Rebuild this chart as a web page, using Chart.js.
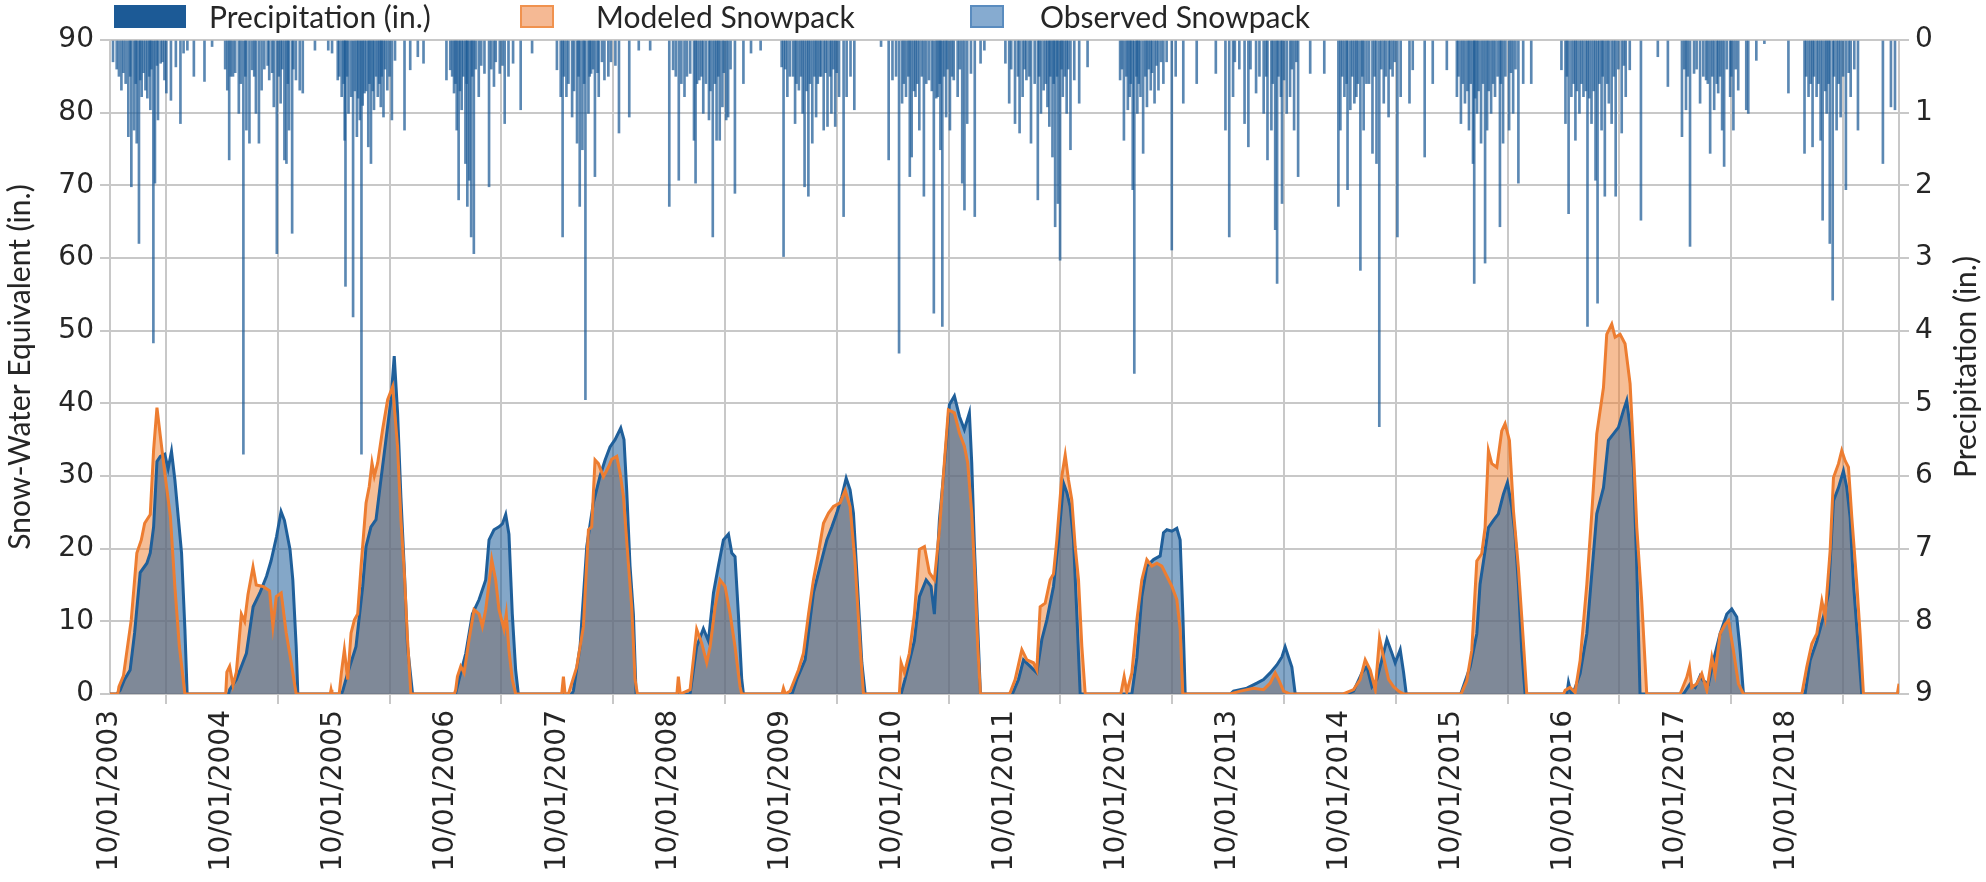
<!DOCTYPE html>
<html>
<head>
<meta charset="utf-8">
<script src="https://cdn.jsdelivr.net/npm/chart.js@4.4.0/dist/chart.umd.min.js"></script>
<style>
  html, body { margin: 0; padding: 0; background: #fff; }
  #wrap { position: relative; width: 1986px; height: 882px; }
  #legend { position: absolute; left: 0; top: 0; width: 1986px; height: 36px; font-family: Lato, sans-serif; font-size: 30px; color: #262626; }
  #legend .sw { position: absolute; top: 5px; height: 23px; box-sizing: border-box; }
  #legend .lt { position: absolute; top: -2px; line-height: 36px; white-space: nowrap; }
  canvas { position: absolute; left: 0; top: 0; }
</style>
</head>
<body>
<div id="wrap">
  <canvas id="chart" width="1986" height="882"></canvas>
  <div id="legend">
    <span class="sw" style="left:114px;width:72px;background:#1c5a96"></span>
    <span class="lt" style="left:209px">Precipitation (in.)</span>
    <span class="sw" style="left:520px;width:34px;background:#f5b994;border:2px solid #f0924f"></span>
    <span class="lt" style="left:596px">Modeled Snowpack</span>
    <span class="sw" style="left:970px;width:34px;background:#86abd0;border:2px solid #5a8cbf"></span>
    <span class="lt" style="left:1040px">Observed Snowpack</span>
  </div>
</div>
<script>
// x = years since 10/01/2003
const tickLabels = ['10/01/2003', '10/01/2004', '10/01/2005', '10/01/2006', '10/01/2007', '10/01/2008',
  '10/01/2009', '10/01/2010', '10/01/2011', '10/01/2012', '10/01/2013', '10/01/2014', '10/01/2015',
  '10/01/2016', '10/01/2017', '10/01/2018'];

// snow-water equivalent, inches
const modeledSWE = [
  [0,0],
  [0.07,0],[0.08,1],[0.12,2.5],[0.19,10.2],[0.24,19.4],[0.28,21.2],[0.31,23.5],[0.36,24.7],[0.39,33.6],[0.42,39.4],[0.45,35.5],[0.49,30.4],[0.54,24.4],[0.58,14.8],[0.62,6.6],[0.67,0],
  [1.035,0],[1.045,3],[1.07,3.8],[1.1,1.2],[1.13,3],[1.175,11],[1.204,10],[1.234,13.7],[1.279,17.5],[1.308,15],[1.368,14.8],[1.427,14.2],[1.457,9.3],[1.487,13.4],[1.531,13.9],[1.576,8.4],[1.621,4.3],[1.665,0],
  [1.97,0],[1.977,0.6],[1.985,0],[2.05,0],[2.07,3],[2.096,6.1],[2.126,2],[2.156,8.4],[2.186,10.2],[2.215,11],[2.245,17.5],[2.29,26.3],[2.319,28.6],[2.343,31.8],[2.364,30],[2.394,31.8],[2.438,36.4],[2.483,40.5],[2.528,42.3],[2.572,34],[2.602,24],[2.632,16.7],[2.661,7.5],[2.691,0],
  [3.08,0],[3.092,0.6],[3.107,2.4],[3.137,3.8],[3.167,2.9],[3.211,7.5],[3.256,11.6],[3.301,11],[3.33,9.3],[3.36,11.6],[3.39,15.3],[3.414,18.5],[3.449,15.7],[3.479,11.6],[3.524,8.9],[3.544,11],[3.568,6],[3.598,2],[3.628,0],
  [4.04,0],[4.055,2.4],[4.07,0],[4.1,0],[4.174,3.7],[4.234,9.3],[4.279,22.6],[4.308,23],[4.338,32.2],[4.368,31.7],[4.413,29.9],[4.457,31.2],[4.487,32.3],[4.532,32.7],[4.562,30.4],[4.592,27.2],[4.636,18],[4.666,12],[4.696,2],[4.717,0],
  [5.07,0],[5.083,2.4],[5.1,0],[5.188,0.6],[5.247,8.9],[5.292,7],[5.337,4.3],[5.367,6.5],[5.412,12],[5.456,15.7],[5.501,14.8],[5.546,11],[5.59,6.5],[5.635,1],[5.65,0],
  [6.01,0],[6.023,0.8],[6.04,0],[6.083,0.4],[6.157,3.3],[6.202,5.6],[6.247,11],[6.291,15.7],[6.336,19.4],[6.381,23.5],[6.426,24.9],[6.47,25.8],[6.53,26.3],[6.575,28],[6.619,25.8],[6.664,18],[6.709,6.5],[6.739,0],
  [7.06,0],[7.075,4.3],[7.105,2.9],[7.149,5.6],[7.194,11],[7.239,19.9],[7.284,20.3],[7.328,16.7],[7.373,15.7],[7.418,22.6],[7.462,31.8],[7.498,39.1],[7.552,38.7],[7.597,35.9],[7.641,34.1],[7.671,31.8],[7.707,24.9],[7.737,15.7],[7.761,6.5],[7.785,0],
  [8.04,0],[8.051,0.2],[8.095,2],[8.155,6.1],[8.2,4.7],[8.259,4.3],[8.289,3.3],[8.319,12],[8.364,12.5],[8.408,15.7],[8.438,16.5],[8.468,21.2],[8.513,30],[8.543,32.9],[8.572,29.5],[8.602,26.7],[8.632,20.3],[8.662,15.7],[8.692,6.5],[8.722,0],
  [9.04,0],[9.07,2.4],[9.094,0.3],[9.139,2.9],[9.184,10.2],[9.228,15.7],[9.273,18.5],[9.318,17.6],[9.363,18],[9.407,17.6],[9.452,16.2],[9.497,14.8],[9.541,13],[9.571,8.9],[9.595,0],
  [10.018,0],[10.108,0.4],[10.227,0.8],[10.317,0.6],[10.376,1.5],[10.421,2.9],[10.451,2],[10.496,0.4],[10.555,0],
  [11.03,0],[11.122,0.6],[11.181,2],[11.226,4.7],[11.271,3.3],[11.316,0.6],[11.354,7.7],[11.39,5.1],[11.435,2],[11.48,1],[11.524,0.4],[11.569,0],
  [12.08,0],[12.089,0.2],[12.134,1.8],[12.179,6],[12.224,18.3],[12.268,19.3],[12.298,22.9],[12.328,33.5],[12.358,31.7],[12.403,31.2],[12.447,36.2],[12.477,37.2],[12.516,34.9],[12.552,25.2],[12.596,17.4],[12.626,10.6],[12.671,0],
  [13.0,0],[13.014,0.5],[13.058,0.9],[13.103,0.2],[13.148,4.6],[13.208,15.1],[13.252,24.8],[13.297,35.8],[13.357,42.2],[13.386,49.5],[13.431,50.9],[13.461,49.1],[13.506,49.5],[13.55,48.2],[13.595,42.7],[13.625,33.5],[13.655,22.9],[13.699,12.8],[13.744,0],
  [14.042,0],[14.102,2.3],[14.126,3.7],[14.147,0.9],[14.191,1.4],[14.236,2.8],[14.281,0.5],[14.326,5],[14.355,2.8],[14.4,8.3],[14.445,9.6],[14.475,10.1],[14.519,6],[14.564,1.4],[14.609,0],
  [15.131,0],[15.175,3.7],[15.22,6.9],[15.265,8.3],[15.31,12.8],[15.339,10.6],[15.384,19.7],[15.414,29.8],[15.459,31.7],[15.488,33.5],[15.518,32.1],[15.548,31.2],[15.578,24.3],[15.623,15.1],[15.652,8.3],[15.682,0],
  [15.985,0],[16,1.4]
];

const observedSWE = [
  [0,0],
  [0.06,0],[0.09,0.5],[0.13,2],[0.18,3.3],[0.22,8.4],[0.27,16.7],[0.33,18],[0.36,19.4],[0.39,23],[0.42,32],[0.45,32.7],[0.49,33],[0.52,31],[0.55,33.4],[0.58,29.5],[0.61,24.4],[0.64,19.4],[0.67,8.9],[0.69,0],
  [1.06,0],[1.07,0.6],[1.13,2],[1.22,5.6],[1.28,12],[1.34,13.9],[1.4,16.2],[1.44,18.3],[1.49,21.7],[1.53,25.1],[1.56,23.9],[1.61,19.9],[1.635,15.7],[1.665,6.6],[1.68,0],
  [2.07,0],[2.081,0.4],[2.126,2.9],[2.2,6.5],[2.26,14.8],[2.29,20.3],[2.334,23],[2.379,24],[2.423,29.5],[2.468,35],[2.513,40.5],[2.542,46.5],[2.572,38.7],[2.602,27],[2.632,17.2],[2.661,6.5],[2.706,0],
  [3.09,0],[3.122,2],[3.182,5.6],[3.241,11],[3.301,13],[3.36,15.7],[3.39,21.2],[3.434,22.6],[3.479,23],[3.509,23.4],[3.539,24.7],[3.568,22],[3.598,11],[3.628,3.3],[3.652,0],
  [4.13,0],[4.144,0.4],[4.204,6.5],[4.264,20.3],[4.323,26.3],[4.383,30],[4.428,32.2],[4.472,34],[4.517,35],[4.568,36.6],[4.597,35],[4.621,28.1],[4.651,17.6],[4.681,11],[4.705,0],
  [5.188,0],[5.247,6.5],[5.307,9],[5.352,7.3],[5.397,13.9],[5.441,17.6],[5.486,21.2],[5.531,22],[5.561,19.4],[5.59,18.9],[5.62,11],[5.65,2],[5.665,0],
  [6.1,0],[6.142,2],[6.217,4.7],[6.291,13.9],[6.351,17.6],[6.411,21.2],[6.456,23],[6.5,24.9],[6.545,27.2],[6.584,29.7],[6.619,28.1],[6.649,24.9],[6.679,16.7],[6.724,4.3],[6.754,0],
  [7.075,0],[7.11,2],[7.194,7.3],[7.239,13.4],[7.299,15.7],[7.343,14.8],[7.373,11],[7.418,24],[7.462,31.3],[7.507,39.8],[7.552,41],[7.597,38.2],[7.641,36.4],[7.686,38.7],[7.707,31.8],[7.731,20.3],[7.761,9],[7.785,0],
  [8.07,0],[8.081,0.4],[8.125,2],[8.17,4.7],[8.23,3.8],[8.289,2.9],[8.334,7.5],[8.379,10.2],[8.438,14.8],[8.483,21.2],[8.528,29],[8.558,27.7],[8.587,25.8],[8.617,21.2],[8.647,11],[8.677,0],
  [9.139,0],[9.184,5],[9.228,13.4],[9.273,17.6],[9.333,18.5],[9.392,19],[9.422,22.2],[9.452,22.6],[9.497,22.4],[9.541,22.8],[9.571,21.2],[9.595,11],[9.616,0],
  [10.02,0],[10.048,0.4],[10.168,0.8],[10.257,1.5],[10.317,2],[10.376,2.9],[10.436,4],[10.481,5.1],[10.51,6.5],[10.54,5.1],[10.57,3.7],[10.6,0],
  [11.06,0],[11.122,0.4],[11.196,2.9],[11.241,3.8],[11.286,1],[11.33,2],[11.375,4.7],[11.42,7.5],[11.465,5.6],[11.494,4.3],[11.539,6.1],[11.569,3],[11.593,0],
  [12.08,0],[12.164,3.7],[12.224,8.3],[12.253,15.1],[12.298,19.7],[12.328,22.9],[12.373,23.9],[12.417,24.8],[12.462,27.5],[12.498,29.1],[12.537,25.7],[12.566,22],[12.596,15.1],[12.626,6],[12.656,0],
  [13.03,0],[13.044,1.6],[13.07,0],[13.088,0.2],[13.148,2.8],[13.208,8.3],[13.252,16.5],[13.297,24.8],[13.357,28.4],[13.401,34.9],[13.446,35.8],[13.491,36.7],[13.535,39],[13.565,40.4],[13.595,36.7],[13.625,31.2],[13.655,17.4],[13.684,0],
  [14.072,0],[14.132,1.4],[14.177,0.9],[14.221,2.5],[14.251,1.8],[14.296,1.4],[14.34,4.6],[14.4,8.3],[14.46,11],[14.504,11.7],[14.549,10.6],[14.579,6],[14.609,0],
  [15.16,0],[15.205,4.6],[15.265,7.3],[15.324,10.6],[15.369,13.8],[15.414,26.6],[15.459,28.4],[15.503,30.7],[15.533,28.4],[15.563,24.3],[15.593,15.1],[15.638,6],[15.667,0],
  [16,0]
];

// daily precipitation, inches (right axis, hanging from the top)
const precipitation = [
  [0.027,0.3],[0.06,0.4],[0.08,0.5],[0.102,0.69],[0.12,0.45],[0.14,0.6],[0.164,1.33],[0.18,0.5],[0.191,2.02],[0.215,1.24],[0.23,0.6],[0.239,1.42],[0.259,2.8],[0.27,0.55],[0.283,0.78],[0.30,0.45],[0.317,0.69],[0.334,0.8],[0.35,0.5],[0.361,0.96],[0.37,0.4],[0.388,4.17],[0.402,1.97],[0.42,0.35],[0.429,1.1],[0.453,0.32],[0.47,0.3],[0.487,0.55],[0.504,0.73],[0.545,0.83],[0.589,0.37],[0.630,1.15],[0.658,0.18],[0.692,0.14],[0.750,0.5],[0.845,0.57],[0.913,0.09],
  [1.03,0.4],[1.049,0.69],[1.066,1.65],[1.08,0.5],[1.100,0.5],[1.12,0.45],[1.152,1.01],[1.17,0.6],[1.193,5.7],[1.21,0.5],[1.220,1.24],[1.247,1.42],[1.271,0.41],[1.29,0.5],[1.305,1.01],[1.332,1.42],[1.356,0.69],[1.38,0.4],[1.41,0.35],[1.424,0.55],[1.45,0.45],[1.465,0.92],[1.492,2.94],[1.51,0.5],[1.526,0.87],[1.54,0.4],[1.560,1.65],[1.578,1.7],[1.59,0.6],[1.601,1.24],[1.629,2.66],[1.64,0.4],[1.663,0.55],[1.697,0.69],[1.724,0.73],[1.833,0.14],
  [1.952,0.14],[1.986,0.18],[2.037,0.55],[2.05,0.5],[2.072,0.78],[2.09,0.6],[2.099,1.38],[2.106,3.39],[2.12,0.5],[2.133,1.01],[2.157,0.78],[2.174,3.81],[2.19,0.7],[2.208,1.33],[2.22,0.8],[2.235,1.1],[2.249,5.7],[2.26,0.9],[2.276,0.73],[2.29,0.7],[2.310,1.47],[2.32,0.6],[2.334,1.7],[2.35,0.7],[2.361,0.96],[2.38,0.5],[2.395,0.78],[2.41,0.6],[2.422,0.92],[2.43,0.5],[2.446,1.06],[2.46,0.4],[2.480,0.69],[2.50,0.5],[2.521,1.1],[2.549,0.28],[2.634,1.24],[2.685,0.41],[2.753,0.23],[2.804,0.32],
  [3.009,0.55],[3.043,0.41],[3.06,0.5],[3.077,0.73],[3.09,0.6],[3.101,1.24],[3.118,2.2],[3.13,0.7],[3.145,0.96],[3.16,0.5],[3.179,1.7],[3.19,0.6],[3.196,2.29],[3.213,1.93],[3.230,2.71],[3.24,0.5],[3.254,2.94],[3.27,0.4],[3.298,0.78],[3.32,0.35],[3.349,0.46],[3.390,2.02],[3.41,0.4],[3.434,0.64],[3.45,0.3],[3.486,0.46],[3.51,0.35],[3.530,1.15],[3.564,0.5],[3.605,0.32],[3.673,0.96],[3.775,0.18],
  [3.997,0.41],[4.031,0.78],[4.048,2.71],[4.06,0.5],[4.082,0.78],[4.10,0.6],[4.133,1.06],[4.15,0.7],[4.177,1.42],[4.19,0.5],[4.201,2.29],[4.225,1.51],[4.24,0.6],[4.252,4.95],[4.279,1.01],[4.29,0.5],[4.303,0.46],[4.32,0.4],[4.337,1.88],[4.36,0.45],[4.371,0.78],[4.40,0.3],[4.422,0.55],[4.457,0.5],[4.48,0.3],[4.52,0.35],[4.552,1.28],[4.644,1.06],[4.729,0.14],[4.831,0.14],
  [5.002,2.29],[5.036,0.41],[5.06,0.5],[5.087,1.93],[5.11,0.6],[5.138,0.78],[5.16,0.5],[5.189,0.46],[5.223,1.38],[5.237,1.97],[5.25,0.6],[5.271,0.55],[5.29,0.5],[5.306,1.01],[5.33,0.6],[5.357,1.1],[5.37,0.7],[5.391,2.71],[5.41,0.6],[5.425,1.38],[5.44,0.5],[5.453,1.38],[5.477,0.92],[5.49,0.45],[5.511,1.1],[5.528,1.06],[5.55,0.4],[5.589,2.11],[5.665,0.6],[5.733,0.18],[5.819,0.14],
  [6.007,0.37],[6.024,2.98],[6.04,0.4],[6.058,0.78],[6.08,0.5],[6.109,0.5],[6.127,1.15],[6.14,0.6],[6.161,0.69],[6.18,0.5],[6.195,1.01],[6.212,2.02],[6.23,0.7],[6.246,2.15],[6.26,0.6],[6.281,1.42],[6.30,0.5],[6.315,1.06],[6.33,0.6],[6.349,0.5],[6.36,0.5],[6.383,1.24],[6.40,0.45],[6.417,1.19],[6.44,0.5],[6.452,1.01],[6.47,0.4],[6.486,1.19],[6.50,0.45],[6.520,0.78],[6.561,2.43],[6.588,0.78],[6.623,0.5],[6.657,0.96],
  [6.896,0.09],[6.964,1.65],[6.998,0.55],[7.03,0.5],[7.057,4.31],[7.084,0.87],[7.10,0.6],[7.119,0.78],[7.14,0.5],[7.153,1.88],[7.170,1.61],[7.19,0.7],[7.204,0.78],[7.22,0.6],[7.238,1.24],[7.26,0.5],[7.279,2.15],[7.30,0.6],[7.324,0.55],[7.35,0.7],[7.368,3.76],[7.39,0.8],[7.403,0.78],[7.42,0.6],[7.427,1.51],[7.444,3.94],[7.46,0.5],[7.478,1.06],[7.49,0.4],[7.512,1.24],[7.53,0.5],[7.546,0.55],[7.581,0.78],[7.60,0.4],[7.622,1.97],[7.642,2.34],[7.666,1.15],[7.700,0.46],[7.734,2.43],[7.786,0.32],[7.820,0.14],
  [8.008,0.32],[8.042,0.87],[8.06,0.4],[8.094,1.15],[8.12,0.5],[8.135,1.28],[8.162,0.78],[8.18,0.4],[8.196,0.55],[8.22,0.5],[8.237,1.42],[8.27,0.6],[8.298,2.2],[8.31,0.5],[8.326,1.01],[8.350,0.69],[8.37,0.6],[8.384,0.92],[8.401,1.19],[8.41,0.5],[8.429,1.61],[8.44,0.6],[8.453,2.57],[8.47,0.5],[8.477,2.25],[8.497,3.03],[8.51,0.4],[8.521,0.78],[8.54,0.5],[8.556,1.01],[8.57,0.4],[8.590,1.51],[8.624,0.55],[8.668,0.87],[8.743,0.37],
  [9.034,0.55],[9.05,0.4],[9.068,1.38],[9.09,0.5],[9.103,0.96],[9.120,0.78],[9.13,0.6],[9.147,2.06],[9.161,4.59],[9.18,0.5],[9.188,1.01],[9.20,0.6],[9.216,0.78],[9.240,1.56],[9.26,0.5],[9.274,0.92],[9.29,0.4],[9.308,0.69],[9.32,0.45],[9.342,0.87],[9.36,0.35],[9.377,0.69],[9.40,0.3],[9.421,0.6],[9.45,0.3],[9.496,2.89],[9.531,0.5],[9.599,0.87],[9.719,0.6],[9.890,0.46],[9.976,1.24],
  [10.010,2.71],[10.044,0.78],[10.06,0.3],[10.10,0.4],[10.147,1.15],[10.181,1.47],[10.20,0.4],[10.250,0.73],[10.28,0.5],[10.318,1.01],[10.34,0.5],[10.352,1.65],[10.387,1.24],[10.40,0.6],[10.421,2.61],[10.438,3.35],[10.45,0.5],[10.472,0.78],[10.482,2.25],[10.5,0.55],[10.524,1.01],[10.554,0.78],[10.57,0.4],[10.590,1.24],[10.61,0.3],[10.626,1.88],[10.734,0.46],[10.860,0.46],
  [10.986,2.29],[11.004,1.24],[11.02,0.5],[11.040,0.78],[11.06,0.6],[11.068,2.06],[11.093,0.96],[11.11,0.5],[11.129,0.87],[11.147,0.78],[11.16,0.6],[11.183,3.17],[11.20,0.5],[11.212,1.24],[11.237,0.6],[11.26,0.6],[11.291,1.56],[11.31,0.5],[11.327,1.7],[11.352,5.32],[11.37,0.4],[11.392,0.87],[11.41,0.5],[11.435,1.06],[11.45,0.4],[11.471,0.5],[11.49,0.3],[11.514,2.71],[11.543,0.78],[11.622,0.87],[11.651,0.41],[11.758,1.61],[11.830,0.6],
  [11.956,0.41],[12.046,0.78],[12.06,0.5],[12.082,1.15],[12.10,0.6],[12.118,0.87],[12.14,0.7],[12.154,1.24],[12.17,0.6],[12.190,1.7],[12.201,3.35],[12.21,0.8],[12.226,1.01],[12.24,0.7],[12.262,1.42],[12.28,0.6],[12.298,3.07],[12.316,1.24],[12.33,0.7],[12.352,1.01],[12.37,0.6],[12.387,0.78],[12.41,0.5],[12.431,2.57],[12.44,0.6],[12.459,1.42],[12.48,0.5],[12.513,1.24],[12.53,0.45],[12.549,1.01],[12.57,0.4],[12.596,1.97],[12.639,0.6],[12.711,0.6],
  [12.981,0.41],[13.017,1.15],[13.03,0.5],[13.045,2.39],[13.070,0.78],[13.09,0.6],[13.106,1.38],[13.12,0.7],[13.142,1.01],[13.16,0.6],[13.178,0.78],[13.20,0.7],[13.214,3.94],[13.23,0.8],[13.250,1.15],[13.27,0.7],[13.286,1.93],[13.304,3.62],[13.32,0.6],[13.340,1.24],[13.35,0.5],[13.369,2.15],[13.39,0.6],[13.405,0.87],[13.430,1.15],[13.45,0.5],[13.466,2.15],[13.49,0.4],[13.520,1.28],[13.54,0.35],[13.556,0.78],[13.592,0.41],[13.692,2.48],[13.843,0.23],[13.933,0.64],
  [14.059,1.33],[14.08,0.4],[14.095,0.96],[14.11,0.5],[14.131,2.84],[14.167,0.46],[14.19,0.4],[14.221,0.87],[14.25,0.5],[14.275,0.55],[14.29,0.6],[14.311,1.56],[14.33,0.5],[14.347,0.96],[14.37,0.6],[14.383,0.73],[14.40,0.5],[14.418,1.24],[14.436,1.74],[14.46,0.4],[14.490,0.78],[14.50,0.5],[14.519,1.24],[14.54,0.4],[14.562,0.69],[14.634,0.96],[14.652,1.01],[14.724,0.28],[14.796,0.05],
  [15.011,0.73],[15.155,1.56],[15.17,0.5],[15.191,0.78],[15.21,0.6],[15.227,1.47],[15.24,0.5],[15.263,0.78],[15.28,0.6],[15.299,1.38],[15.317,2.48],[15.34,0.7],[15.353,1.01],[15.37,0.6],[15.381,2.8],[15.407,3.58],[15.42,0.5],[15.442,1.24],[15.46,0.6],[15.478,1.06],[15.50,0.5],[15.525,2.06],[15.55,0.45],[15.568,0.78],[15.60,0.4],[15.633,1.24],[15.856,1.7],[15.928,0.92],[15.964,0.96]
];

const leftTitle = 'Snow-Water Equivalent (in.)';
const rightTitle = 'Precipitation (in.)';

const toPoints = (arr) => arr.map((p) => ({ x: p[0], y: p[1] }));

const tickFont = { family: 'DejaVu Sans', size: 28 };
const titleFont = { family: 'Lato', size: 30 };
const gridColor = '#c8c8c8';
const textColor = '#262626';

// right axis title reads bottom-to-top like the left one
const rightTitlePlugin = {
  id: 'rightTitle',
  afterDraw(chart) {
    const s = chart.scales.yP;
    const ctx = chart.ctx;
    ctx.save();
    ctx.translate(s.right - 20, (s.top + s.bottom) / 2);
    ctx.rotate(-Math.PI / 2);
    ctx.font = titleFont.size + 'px ' + titleFont.family;
    ctx.fillStyle = textColor;
    ctx.textAlign = 'center';
    ctx.textBaseline = 'middle';
    ctx.fillText(rightTitle, 0, 0);
    ctx.restore();
  }
};

new Chart(document.getElementById('chart'), {
  type: 'bar',
  data: {
    datasets: [
      {
        type: 'bar', label: 'Precipitation (in.)', data: toPoints(precipitation), yAxisID: 'yP',
        backgroundColor: 'rgba(28,90,150,0.72)', barThickness: 2, order: 6
      },
      {
        type: 'line', label: 'Modeled Snowpack', data: toPoints(modeledSWE), yAxisID: 'y',
        fill: 'origin', backgroundColor: 'rgba(238,125,45,0.5)', borderColor: 'transparent', borderWidth: 0,
        pointRadius: 0, tension: 0, order: 5
      },
      {
        type: 'line', label: 'Observed Snowpack', data: toPoints(observedSWE), yAxisID: 'y',
        fill: 'origin', backgroundColor: 'rgba(31,95,154,0.55)', borderColor: 'transparent', borderWidth: 0,
        pointRadius: 0, tension: 0, order: 4
      },
      {
        type: 'line', label: 'observed line', data: toPoints(observedSWE), yAxisID: 'y',
        fill: false, borderColor: '#1f5f9a', borderWidth: 3, pointRadius: 0, tension: 0, order: 3
      },
      {
        type: 'line', label: 'modeled line', data: toPoints(modeledSWE), yAxisID: 'y',
        fill: false, borderColor: '#ed7d31', borderWidth: 3, pointRadius: 0, tension: 0, order: 2
      }
    ]
  },
  options: {
    responsive: false,
    devicePixelRatio: 1,
    animation: false,
    layout: { padding: { top: 40, left: 0, right: 0, bottom: 0 } },
    plugins: { legend: { display: false }, tooltip: { enabled: false } },
    scales: {
      x: {
        type: 'linear', min: 0, max: 16, offset: false,
        ticks: {
          stepSize: 1, autoSkip: false, maxRotation: 90, minRotation: 90, padding: 6,
          font: tickFont, color: textColor,
          callback: (v) => tickLabels[v] || ''
        },
        grid: { color: gridColor, lineWidth: 2, tickLength: 10 },
        border: { color: gridColor, width: 2 },
        afterFit: (s) => { s.height = 188; }
      },
      y: {
        position: 'left', min: 0, max: 90,
        ticks: { stepSize: 10, padding: 6, font: tickFont, color: textColor },
        grid: { color: gridColor, lineWidth: 2, tickLength: 10 },
        border: { color: gridColor, width: 2 },
        title: { display: true, text: leftTitle, font: titleFont, color: textColor, padding: 2 },
        afterFit: (s) => { s.width = 110; }
      },
      yP: {
        position: 'right', min: 0, max: 9, reverse: true,
        ticks: { stepSize: 1, padding: 6, font: tickFont, color: textColor },
        grid: { drawOnChartArea: false, color: gridColor, lineWidth: 2, tickLength: 10 },
        border: { color: gridColor, width: 2 },
        afterFit: (s) => { s.width = 87; }
      }
    }
  },
  plugins: [rightTitlePlugin]
});
</script>
</body>
</html>
